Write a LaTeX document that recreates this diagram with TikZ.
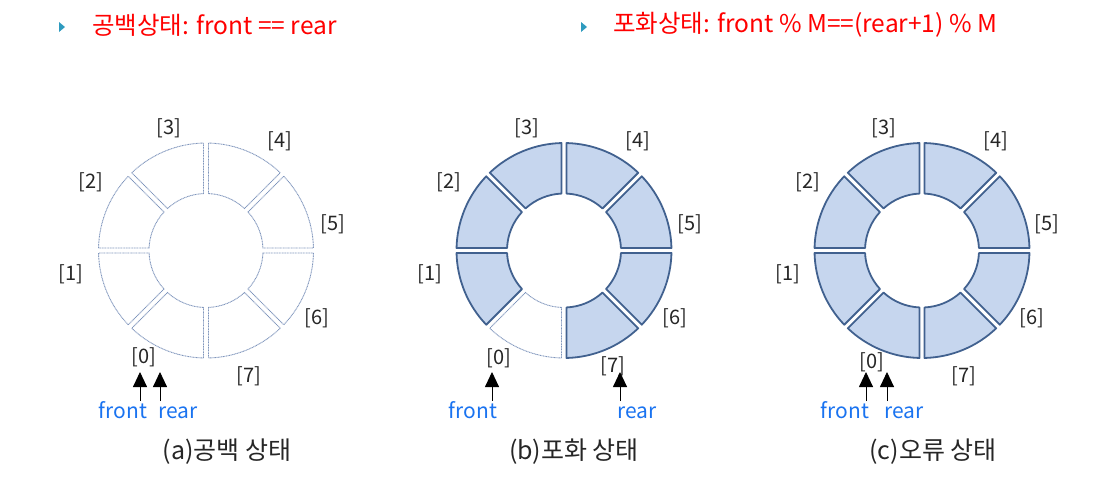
\documentclass[tikz,border=0pt]{standalone}
\usepackage{fontspec}
\setmainfont{Noto Sans CJK KR}
\usetikzlibrary{arrows.meta,calc}
\definecolor{segfill}{HTML}{C6D6EE}
\definecolor{segline}{HTML}{41618F}
\definecolor{dotline}{HTML}{7F95BC}
\definecolor{ptrblue}{HTML}{1A73F0}
\definecolor{bullet}{HTML}{2E9BBF}
\tikzset{
  fullseg/.style={fill=segfill, draw=segline, line width=1.8pt, line join=round},
  emptyseg/.style={draw=dotline, line width=0.9pt, dash pattern=on 1pt off 0.6pt},
  idx/.style={font=\fontsize{20}{22}\selectfont, text=black!85, inner sep=0pt},
  ptr/.style={font=\fontsize{21}{23}\selectfont, text=ptrblue, inner sep=0pt, anchor=base},
  captext/.style={font=\fontsize{25}{27}\selectfont, text=black!85, inner sep=0pt, anchor=base},
  titletext/.style={font=\fontsize{24.5}{26}\selectfont, text=red, inner sep=0pt, anchor=west},
  ptrarrow/.style={-{Triangle[width=14pt,length=15pt]}, line width=0.9pt, draw=black},
}
\newcommand{\Ro}{107.5}
\newcommand{\Ri}{57}
\newcommand{\ringseg}[3]{% #1 center, #2 start angle (flipped), #3 style
  \draw[#3, shift={(#1)}]
    ({#2+asin(2.5/\Ro)}:\Ro) arc[start angle={#2+asin(2.5/\Ro)}, end angle={#2+45-asin(2.5/\Ro)}, radius=\Ro]
    -- ({#2+45-asin(2.5/\Ri)}:\Ri) arc[start angle={#2+45-asin(2.5/\Ri)}, end angle={#2+asin(2.5/\Ri)}, radius=\Ri]
    -- cycle;}
\begin{document}
\begin{tikzpicture}[x=1pt,y=-1pt]
\useasboundingbox (0,0) rectangle (1095,491);
% titles
\fill[bullet] (59,22) -- (65,27) -- (59,32) -- cycle;
\node[titletext] (t1) at (92,25) {공백상태: front == rear};
\fill[bullet] (581,22) -- (587,27) -- (581,32) -- cycle;
\node[titletext] (t2) at (613,25) {포화상태: front \% M==(rear+1) \% M};
% centers
\coordinate (ca) at (206,250.5);
\coordinate (cb) at (564,250.5);
\coordinate (cc) at (922,250.5);
% ring a
\foreach \a in {0,45,...,315} {\ringseg{ca}{\a}{emptyseg}}
% ring b
\foreach \a in {0,45,135,180,225,270,315} {\ringseg{cb}{\a}{fullseg}}
\ringseg{cb}{90}{emptyseg}
% ring c
\foreach \a in {0,45,...,315} {\ringseg{cc}{\a}{fullseg}}
% index labels a
\node[idx] (a3) at (169,128) {[3]};
\node[idx] (a4) at (280,141) {[4]};
\node[idx] (a2) at (91,182) {[2]};
\node[idx] (a5) at (333,224) {[5]};
\node[idx] (a1) at (71,274) {[1]};
\node[idx] (a6) at (317,318) {[6]};
\node[idx] (a0) at (144,357) {[0]};
\node[idx] (a7) at (249,376) {[7]};
% index labels b
\node[idx] (b3) at (527,128) {[3]};
\node[idx] (b4) at (638,141) {[4]};
\node[idx] (b2) at (449,182) {[2]};
\node[idx] (b5) at (690,224) {[5]};
\node[idx] (b1) at (430,274) {[1]};
\node[idx] (b6) at (675,318) {[6]};
\node[idx] (b0) at (499,358) {[0]};
\node[idx] (b7) at (613,366) {[7]};
% index labels c
\node[idx] (c3) at (884,128) {[3]};
\node[idx] (c4) at (996,141) {[4]};
\node[idx] (c2) at (808,182) {[2]};
\node[idx] (c5) at (1047,224) {[5]};
\node[idx] (c1) at (788,274) {[1]};
\node[idx] (c6) at (1032,318) {[6]};
\node[idx] (c0) at (872,362) {[0]};
\node[idx] (c7) at (964,376) {[7]};
% pointers a
\node[ptr] (af) at (123,418) {front};
\node[ptr] (ar) at (178,418) {rear};
\coordinate (af0) at (140,401); \coordinate (af1) at (140,372);
\coordinate (ar0) at (160,401); \coordinate (ar1) at (160,372);
\draw[ptrarrow] (af0) -- (af1);
\draw[ptrarrow] (ar0) -- (ar1);
% pointers b
\node[ptr] (bf) at (473,418) {front};
\node[ptr] (br) at (637,418) {rear};
\coordinate (bf0) at (492,401); \coordinate (bf1) at (492,372);
\coordinate (br0) at (620,401); \coordinate (br1) at (620,372);
\draw[ptrarrow] (bf0) -- (bf1);
\draw[ptrarrow] (br0) -- (br1);
% pointers c
\node[ptr] (cf) at (845,418) {front};
\node[ptr] (cr) at (904,418) {rear};
\coordinate (cf0) at (866,401); \coordinate (cf1) at (866,372);
\coordinate (cr0) at (887,401); \coordinate (cr1) at (887,372);
\draw[ptrarrow] (cf0) -- (cf1);
\draw[ptrarrow] (cr0) -- (cr1);
% captions
\node[captext] (capa) at (227,459) {(a)공백 상태};
\node[captext] (capb) at (574,459) {(b)포화 상태};
\node[captext] (capc) at (933,459) {(c)오류 상태};
\end{tikzpicture}
\end{document}
